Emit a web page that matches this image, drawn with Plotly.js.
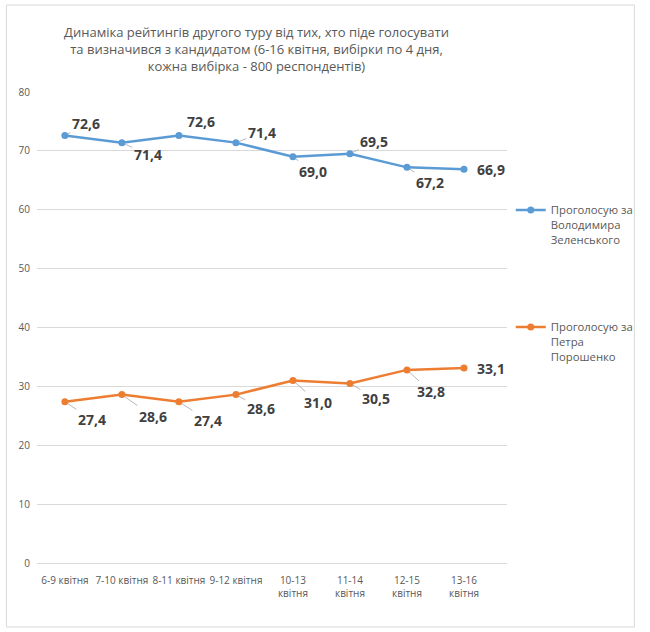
<!DOCTYPE html>
<html>
<head>
<meta charset="utf-8">
<script src="https://cdn.plot.ly/plotly-3.0.1.min.js"></script>
<style>html,body{margin:0;padding:0;background:#fff;}#chart{width:650px;height:632px;}</style>
</head>
<body>
<div id="chart"></div>
<script>
// ---- data ----
const categories = ["6-9 квітня","7-10 квітня","8-11 квітня","9-12 квітня","10-13 квітня","11-14 квітня","12-15 квітня","13-16 квітня"];
const tickLabels = ["6-9 квітня","7-10 квітня","8-11 квітня","9-12 квітня","10-13<br>квітня","11-14<br>квітня","12-15<br>квітня","13-16<br>квітня"];
const zelensky = [72.6, 71.4, 72.6, 71.4, 69.0, 69.5, 67.2, 66.9];
const poroshenko = [27.4, 28.6, 27.4, 28.6, 31.0, 30.5, 32.8, 33.1];
const seriesNames = ["Проголосую за<br>Володимира<br>Зеленського", "Проголосую за<br>Петра<br>Порошенко"];
const titleText = "Динаміка рейтингів другого туру від тих, хто піде голосувати<br>та визначився з кандидатом (6-16 квітня, вибірки по 4 дня,<br>кожна вибірка - 800 респондентів)";

// ---- label placement (style) ----
const zOff = [[21,-12,1],[26,12,1],[22,-14,0],[26,-10,1],[20,15,1],[24,-12,1],[23,15,1],[27,0,0]];
const pOff = [[27,18,1],[31,22,1],[29,19,1],[25,14,1],[25,22,1],[26,15,1],[24,22,1],[27,0,0]];

const blue = "#5B9BD5", orange = "#ED7D31";
const fontFam = "Open Sans, Lato, sans-serif";

function mk(y, name, color, grp) {
  return {
    x: categories, y: y, name: name, type: "scatter", mode: "lines+markers",
    line: {color: color, width: 2.5}, marker: {color: color, size: 7},
    legendgroup: grp, hoverinfo: "skip"
  };
}

function fmt(v) { return v.toFixed(1).replace(".", ","); }

const annotations = [];
function addLabels(vals, offs) {
  vals.forEach((v, i) => {
    annotations.push({
      x: categories[i], y: v, xref: "x", yref: "y",
      text: "<b>" + fmt(v) + "</b>",
      showarrow: true, arrowhead: 0, arrowwidth: 0.8,
      arrowcolor: offs[i][2] ? "#a6a6a6" : "rgba(0,0,0,0)",
      ax: offs[i][0], ay: offs[i][1], standoff: 3,
      font: {family: fontFam, size: 14, color: "#404040"}
    });
  });
}
addLabels(zelensky, zOff);
addLabels(poroshenko, pOff);

const layout = {
  width: 650, height: 632,
  paper_bgcolor: "#fff", plot_bgcolor: "#fff",
  margin: {l: 37, r: 137, t: 92, b: 69},
  title: {
    text: titleText, x: 0.467, xref: "paper", xanchor: "center",
    y: 0.941, yref: "container", yanchor: "top",
    font: {family: fontFam, size: 13, color: "#595959"}
  },
  xaxis: {
    type: "category", tickvals: categories, ticktext: tickLabels,
    showgrid: false, showline: false, zeroline: false, ticks: "",
    tickfont: {family: fontFam, size: 10, color: "#595959"}, tickangle: 0,
    ticklabelstandoff: 10, fixedrange: true
  },
  yaxis: {
    range: [0, 80], dtick: 10, showgrid: true, gridcolor: "#d9d9d9", gridwidth: 1,
    zeroline: true, zerolinecolor: "#d9d9d9", zerolinewidth: 1, showline: false,
    tickfont: {family: fontFam, size: 10, color: "#595959"}, ticks: "",
    ticklabelstandoff: 6, fixedrange: true
  },
  legend: {
    x: 1.008, xanchor: "left", y: 0.779, yanchor: "top",
    traceorder: "grouped", tracegroupgap: 70, valign: "top",
    font: {family: fontFam, size: 11.3, color: "#595959"},
    bgcolor: "rgba(0,0,0,0)"
  },
  showlegend: true,
  annotations: annotations,
  shapes: [{
    type: "rect", xref: "paper", yref: "paper",
    x0: (6 - 37) / 476, x1: (642 - 37) / 476,
    y0: (563 - 627) / 471, y1: (563 - 5) / 471,
    line: {color: "#d9d9d9", width: 1}, fillcolor: "rgba(0,0,0,0)", layer: "below"
  }]
};

Plotly.newPlot("chart", [mk(zelensky, seriesNames[0], blue, "z"), mk(poroshenko, seriesNames[1], orange, "p")], layout, {displayModeBar: false, staticPlot: true});
</script>
</body>
</html>
